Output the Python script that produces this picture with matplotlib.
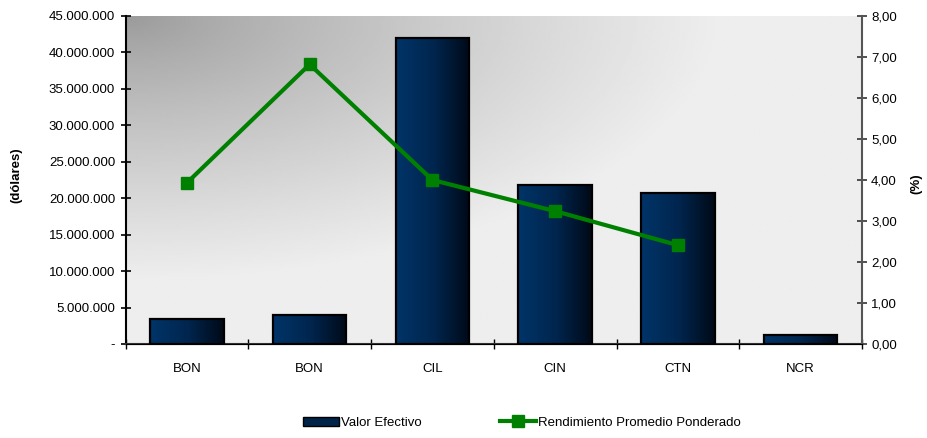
import numpy as np
import matplotlib
matplotlib.use("Agg")
import matplotlib.pyplot as plt
from matplotlib.colors import LinearSegmentedColormap
from matplotlib.ticker import FuncFormatter
from matplotlib.patches import Patch
from matplotlib.lines import Line2D

plt.rcParams['font.family'] = ['Liberation Sans', 'DejaVu Sans']

# datos por instrumento
instrumentos = ['BON', 'BON', 'CIL', 'CIN', 'CTN', 'NCR']
valor_efectivo = [3400000, 4000000, 42000000, 21800000, 20650000, 1280000]
rendimiento = [3.93, 6.82, 4.00, 3.24, 2.41]   # NCR sin rendimiento

fig = plt.figure(figsize=(9.27, 4.38), dpi=100)
ax = fig.add_axes([0.1354, 0.2146, 0.7945, 0.7489])
ax2 = ax.twinx()

x = np.arange(len(instrumentos))
xmin, xmax = -0.5, len(instrumentos) - 0.5
ymax = 45000000

# fondo degradado gris (oscuro arriba a la izquierda)
gx, gy = np.meshgrid(np.linspace(0, 1, 300), np.linspace(0, 1, 150))
r = np.sqrt(gx ** 2 + gy ** 2)
fondo = 0.6 + 0.33 * np.clip(r / 0.8, 0, 1) ** 0.8
ax.imshow(fondo, cmap='gray', vmin=0, vmax=1, aspect='auto', origin='upper',
          extent=[xmin, xmax, 0, ymax], zorder=0, interpolation='bilinear')

# barras con degradado azul a negro
azul = LinearSegmentedColormap.from_list('azul', ['#003468', '#00264f', '#000a18'])
grad = np.linspace(0, 1, 100).reshape(1, -1)
barras = ax.bar(x, valor_efectivo, width=0.6, facecolor='none',
                edgecolor='black', linewidth=1.6, zorder=3)
for b in barras:
    x0, y0, w, h = b.get_x(), b.get_y(), b.get_width(), b.get_height()
    im = ax.imshow(grad, cmap=azul, aspect='auto', extent=[x0, x0 + w, y0, y0 + h],
                   zorder=2, interpolation='bilinear')
    im.set_clip_path(b)

ax.set_xlim(xmin, xmax)
ax.set_ylim(0, ymax)
ax2.set_ylim(0, 8)

# linea de rendimiento
ax2.plot(x[:len(rendimiento)], rendimiento, color='#008000', linewidth=3,
         marker='s', markersize=9, zorder=4)

# ejes
ax.set_xticks(x)
ax.set_xticklabels(instrumentos, fontsize=9.5)
ax.set_xticks(np.arange(len(instrumentos) + 1) - 0.5, minor=True)
ax.tick_params(axis='x', which='major', length=0, pad=14)
ax.tick_params(axis='x', which='minor', length=7, direction='inout', width=1)

ax.set_yticks(np.arange(0, ymax + 1, 5000000))
ax.yaxis.set_major_formatter(FuncFormatter(
    lambda v, p: '-' if v == 0 else f'{int(v):,}'.replace(',', '.')))
ax.tick_params(axis='y', length=7, direction='inout', width=1.2, labelsize=9.5, pad=4)

ax2.set_yticks(np.arange(0, 8.01, 1))
ax2.yaxis.set_major_formatter(FuncFormatter(lambda v, p: f'{v:.2f}'.replace('.', ',')))
ax2.tick_params(axis='y', length=7, direction='inout', width=1.2, labelsize=9.5,
                pad=3, colors='#333333', labelcolor='black')

ax.spines['top'].set_visible(False)
ax2.spines['top'].set_visible(False)
ax.spines['right'].set_visible(False)
ax2.spines['left'].set_visible(False)
ax2.spines['right'].set_color('#555555')
ax2.spines['right'].set_linewidth(1.5)
ax.spines['left'].set_linewidth(1.5)
ax.spines['bottom'].set_linewidth(1.5)
ax.spines['bottom'].set_color('#333333')

fig.text(0.018, 0.60, '(dólares)', rotation=90, fontsize=9.5,
         fontweight='bold', ha='center', va='center')
fig.text(0.9885, 0.58, '(%)', rotation=90, fontsize=9.5, fontweight='bold',
         ha='center', va='center')

# leyenda
handles = [Patch(facecolor='#002449', edgecolor='black', linewidth=1),
           Line2D([0], [0], color='#008000', linewidth=3, marker='s', markersize=8)]
fig.legend(handles, ['Valor Efectivo', 'Rendimiento Promedio Ponderado'],
           loc='center', bbox_to_anchor=(0.563, 0.035), ncol=2, frameon=False,
           fontsize=9.5, handlelength=2.7, handletextpad=0.15, columnspacing=6.0)

fig.savefig('out.png', dpi=100)
